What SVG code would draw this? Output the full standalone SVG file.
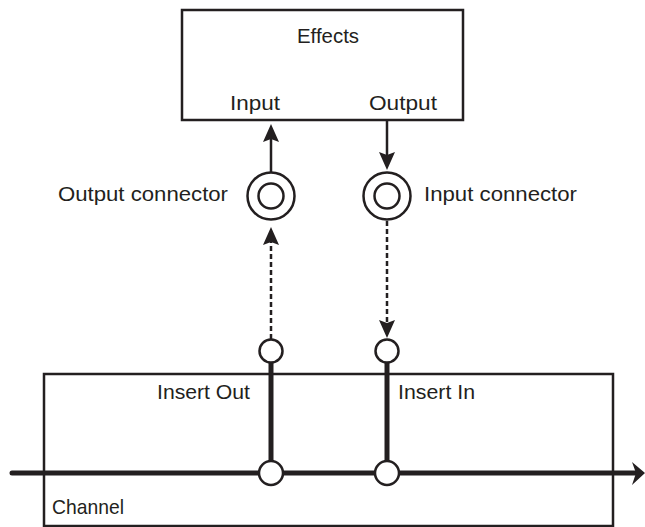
<svg xmlns="http://www.w3.org/2000/svg" width="645" height="527" viewBox="0 0 645 527">
<style>
.box{fill:none;stroke:#231f20;stroke-width:2.5}
.lbl{font-family:"Liberation Sans",Arial,sans-serif;font-size:21px;fill:#231f20}
.ring{fill:#fff;stroke:#231f20;stroke-width:2.5}
.solid{stroke:#231f20;stroke-width:2.5;fill:none}
.dash{stroke:#231f20;stroke-width:2.5;fill:none;stroke-dasharray:5 3}
.thick{stroke:#231f20;stroke-width:5;fill:none}
.head{fill:#231f20}
</style>
<rect width="645" height="527" fill="#fff"/>
<g id="effects">
<rect class="box" x="182" y="10" width="281" height="110"/>
<text class="lbl" x="328" y="43" text-anchor="middle" textLength="62" lengthAdjust="spacingAndGlyphs">Effects</text>
<text class="lbl" x="230" y="110" textLength="50" lengthAdjust="spacingAndGlyphs">Input</text>
<text class="lbl" x="369" y="110" textLength="68" lengthAdjust="spacingAndGlyphs">Output</text>
</g>
<g id="channel">
<rect class="box" x="44" y="374" width="569" height="152"/>
<text class="lbl" x="157" y="399" textLength="93" lengthAdjust="spacingAndGlyphs">Insert Out</text>
<text class="lbl" x="398" y="399" textLength="77" lengthAdjust="spacingAndGlyphs">Insert In</text>
<text class="lbl" x="52" y="514" textLength="72" lengthAdjust="spacingAndGlyphs">Channel</text>
</g>
<g id="connectors">
<line class="solid" x1="271" y1="172" x2="271" y2="138"/>
<path class="head" d="M271,124 L279,142 L271,139 L263,142 Z"/>
<line class="solid" x1="387" y1="120" x2="387" y2="156"/>
<path class="head" d="M387,170 L379,152 L387,155 L395,152 Z"/>
<line class="dash" x1="271" y1="339" x2="271" y2="240"/>
<path class="head" d="M271,227 L279,245 L271,242 L263,245 Z"/>
<line class="dash" x1="387" y1="221" x2="387" y2="324"/>
<path class="head" d="M387,338 L379,320 L387,323 L395,320 Z"/>
<line class="thick" x1="271" y1="363" x2="271" y2="461"/>
<line class="thick" x1="387" y1="363" x2="387" y2="461"/>
<line class="thick" x1="12" y1="473" x2="636" y2="473" stroke-linecap="round"/>
<path class="head" d="M645,473 L632,462 L636,473 L632,485 Z"/>
</g>
<g id="output-connector">
<circle class="ring" cx="271" cy="196" r="23.5"/>
<circle class="ring" cx="271" cy="196" r="12.5"/>
<text class="lbl" x="58" y="201" textLength="170" lengthAdjust="spacingAndGlyphs">Output connector</text>
</g>
<g id="input-connector">
<circle class="ring" cx="387" cy="196" r="23.5"/>
<circle class="ring" cx="387" cy="196" r="12.5"/>
<text class="lbl" x="424" y="201" textLength="153" lengthAdjust="spacingAndGlyphs">Input connector</text>
</g>
<g id="insert-out-jack"><circle class="ring" cx="271" cy="351" r="11.5"/></g>
<g id="insert-in-jack"><circle class="ring" cx="387" cy="351" r="11.5"/></g>
<g id="insert-out-node"><circle class="ring" cx="271" cy="473" r="12"/></g>
<g id="insert-in-node"><circle class="ring" cx="387" cy="473" r="12"/></g>
</svg>
